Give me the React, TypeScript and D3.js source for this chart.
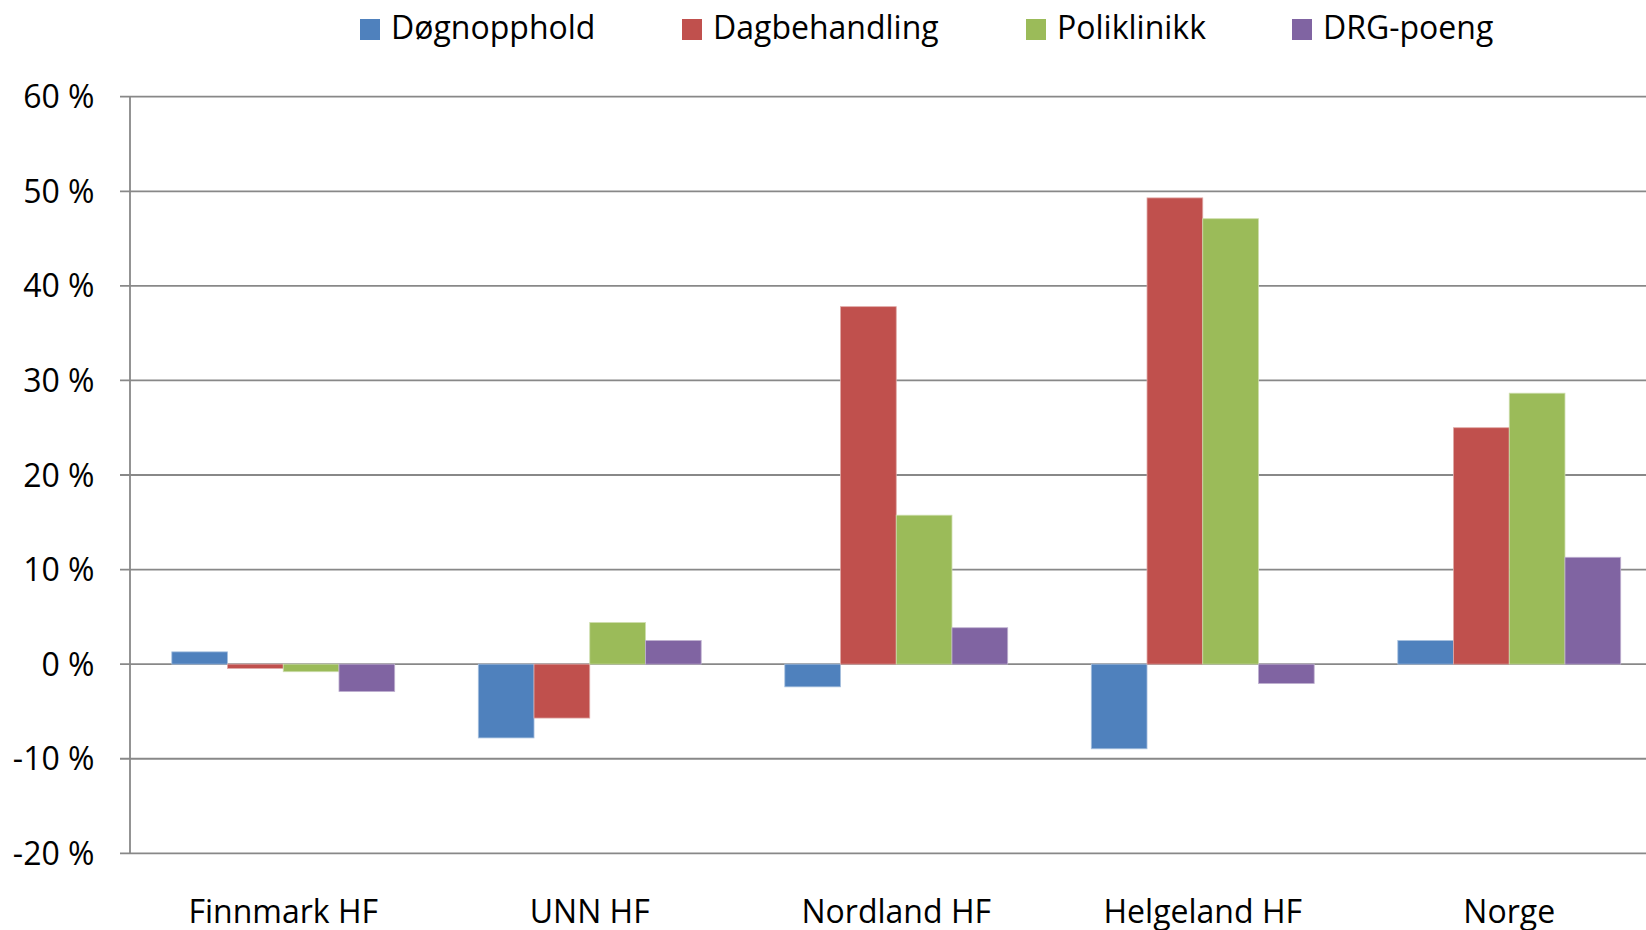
import React from "react";
import * as d3 from "d3";

const categories = ["Finnmark HF", "UNN HF", "Nordland HF", "Helgeland HF", "Norge"];
const seriesNames = ["Døgnopphold", "Dagbehandling", "Poliklinikk", "DRG-poeng"];
const dognopphold = [1.3, -7.8, -2.4, -8.95, 2.5];
const dagbehandling = [-0.45, -5.7, 37.8, 49.3, 25.0];
const poliklinikk = [-0.8, 4.4, 15.75, 47.1, 28.65];
const drgPoeng = [-2.9, 2.5, 3.85, -2.05, 11.3];
const yTicks = [60, 50, 40, 30, 20, 10, 0, -10, -20];
const colors = ["#4F81BD", "#C0504D", "#9BBB59", "#8064A2"];
const strokes = ["#A7C0DE", "#DFA8A6", "#CDDDAC", "#BFB1D0"];

const W = 1646;
const H = 930;
const FONT = "'Open Sans', sans-serif";

export default function App() {
  const values = [dognopphold, dagbehandling, poliklinikk, drgPoeng];
  const left = 130;
  const bandW = 306.5;
  const x0 = d3
    .scaleBand<string>()
    .domain(categories)
    .range([left, left + bandW * categories.length])
    .padding(0);
  const barW = x0.bandwidth() / 5.5;
  const x1 = d3
    .scaleBand<string>()
    .domain(seriesNames)
    .range([0.75 * barW, 4.75 * barW])
    .padding(0);
  const y = d3.scaleLinear().domain([-20, 60]).range([853.3, 96.7]);

  const legendX = [360, 682, 1026, 1292];

  return (
    <svg
      width={W}
      height={H}
      style={{ position: "absolute", left: 0, top: 0, background: "#fff" }}
      fontFamily={FONT}
    >
      <rect x={0} y={0} width={W} height={H} fill="#fff" />
      {/* gridlines */}
      {yTicks.map((t) => (
        <line
          key={t}
          x1={120}
          x2={W}
          y1={y(t)}
          y2={y(t)}
          stroke="#888"
          strokeWidth={1.8}
        />
      ))}
      {/* y axis */}
      <line x1={left} x2={left} y1={y(60)} y2={y(-20)} stroke="#888" strokeWidth={1.8} />
      {/* tick labels */}
      {yTicks.map((t) => (
        <text
          key={"l" + t}
          x={94.5}
          y={y(t) + 11.5}
          textAnchor="end"
          fontSize={32}
          fill="#000"
        >
          {`${t} %`}
        </text>
      ))}
      {/* bars */}
      {categories.map((c, ci) => (
        <g key={c} transform={`translate(${x0(c)},0)`}>
          {seriesNames.map((s, si) => {
            const v = values[si][ci];
            const y0 = y(0);
            const yv = y(v);
            return (
              <rect
                key={s}
                x={x1(s)}
                y={Math.min(y0, yv)}
                width={x1.bandwidth()}
                height={Math.abs(yv - y0)}
                fill={colors[si]}
                stroke={strokes[si]}
                strokeWidth={0.8}
              />
            );
          })}
        </g>
      ))}
      {/* category labels */}
      {categories.map((c) => (
        <text
          key={"c" + c}
          x={(x0(c) as number) + x0.bandwidth() / 2}
          y={923}
          textAnchor="middle"
          fontSize={32}
          fill="#000"
        >
          {c}
        </text>
      ))}
      {/* legend */}
      {seriesNames.map((s, i) => (
        <g key={"lg" + s}>
          <rect x={legendX[i]} y={19} width={20} height={21} fill={colors[i]} />
          <text x={legendX[i] + 31} y={39} fontSize={32} fill="#000">
            {s}
          </text>
        </g>
      ))}
    </svg>
  );
}
